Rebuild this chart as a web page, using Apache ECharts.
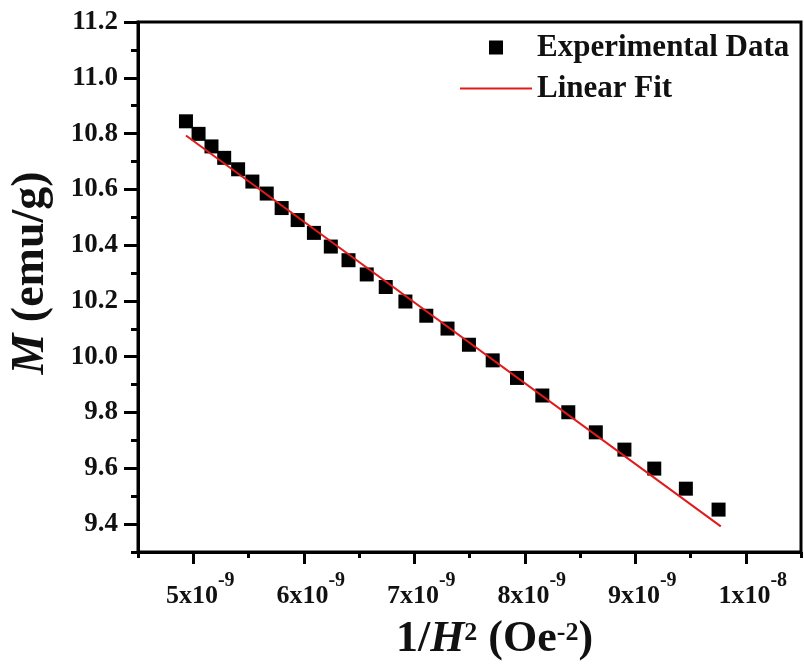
<!DOCTYPE html>
<html>
<head>
<meta charset="utf-8">
<script src="https://cdn.jsdelivr.net/npm/echarts@6/dist/echarts.min.js"></script>
<style>
  html, body { margin: 0; padding: 0; background: #fff; }
  #chart { width: 804px; height: 665px; }
</style>
</head>
<body>
<div id="chart"></div>
<script>
// x values are in units of 1e-9 Oe^-2
const invH2 = [4.934, 5.048, 5.165, 5.280, 5.406, 5.535, 5.665, 5.800, 5.945, 6.092,
  6.245, 6.405, 6.570, 6.742, 6.920, 7.109, 7.301, 7.495, 7.710, 7.930,
  8.159, 8.394, 8.643, 8.902, 9.172, 9.458, 9.754]
const magM = [10.844, 10.799, 10.754, 10.713, 10.672, 10.628, 10.585, 10.533, 10.490, 10.444,
  10.395, 10.346, 10.295, 10.250, 10.198, 10.147, 10.101, 10.043, 9.987, 9.924,
  9.861, 9.801, 9.729, 9.667, 9.599, 9.527, 9.452]

// linear fit end points
const fitX = [4.934, 9.774]
const fitY = [10.793, 9.392]

// tick labels
const xTickValues = [5, 6, 7, 8, 9, 10]
const xTickMantissa = ['5', '6', '7', '8', '9', '1']
const xTickExponent = ['-9', '-9', '-9', '-9', '-9', '-8']
const yTickValues = [9.4, 9.6, 9.8, 10.0, 10.2, 10.4, 10.6, 10.8, 11.0, 11.2]

const serif = '"Liberation Serif", "DejaVu Serif", serif'
const black = '#000'
const red = '#e01b1b'

const grid = {
  left: 138, right: 3, top: 22, bottom: 113,
  outerBoundsMode: 'none',
  show: true, borderColor: black, borderWidth: 3
}

const baseAxis = {
  type: 'value',
  splitLine: { show: false },
  axisLine: { show: true, onZero: false, lineStyle: { color: black, width: 3 } }
}

const option = {
  backgroundColor: '#fff',
  animation: false,
  grid: grid,
  legend: {
    orient: 'vertical',
    left: 455,
    top: 27,
    itemWidth: 72,
    itemHeight: 14,
    itemGap: 10,
    textStyle: { fontFamily: serif, fontSize: 31, fontWeight: 'bold', color: '#111', lineHeight: 30 },
    data: [
      { name: 'Experimental Data', icon: 'path://M0,0h14v14h-14z' },
      { name: 'Linear Fit', icon: 'path://M0,0h72v2h-72z' }
    ]
  },
  xAxis: [
    // minor ticks every 0.5
    Object.assign({}, baseAxis, {
      position: 'bottom',
      min: 4.5, max: 10.5, interval: 0.5,
      axisTick: { show: true, inside: false, length: 6, lineStyle: { color: black, width: 3 } },
      axisLabel: { show: false }
    }),
    // major ticks + labels
    Object.assign({}, baseAxis, {
      position: 'bottom',
      min: 4.5, max: 10.5, interval: 0.5,
      axisLine: { show: false, onZero: false },
      axisTick: { show: true, inside: false, length: 12, customValues: xTickValues, lineStyle: { color: black, width: 3 } },
      axisLabel: {
        show: true,
        margin: 19,
        padding: [0, 0, 0, 14],
        customValues: xTickValues,
        formatter: function (v) {
          const i = xTickValues.indexOf(Math.round(v))
          if (i < 0) return ''
          return '{b|' + xTickMantissa[i] + 'x10}{s|' + xTickExponent[i] + '}'
        },
        rich: {
          b: { fontFamily: serif, fontSize: 26, fontWeight: 'bold', color: '#111', lineHeight: 38, verticalAlign: 'bottom' },
          s: { fontFamily: serif, fontSize: 20, fontWeight: 'bold', color: '#111', lineHeight: 20, verticalAlign: 'top' }
        }
      },
      name: '{n|1/}{i|H}{s|2}{n| (Oe}{s|-2}{n|)}',
      nameLocation: 'middle',
      nameGap: 68,
      nameTextStyle: {
        padding: [0, 0, 0, 50],
        rich: {
          n: { fontFamily: serif, fontSize: 44, fontWeight: 'bold', color: '#111', lineHeight: 42, verticalAlign: 'bottom' },
          i: { fontFamily: serif, fontSize: 44, fontWeight: 'bold', fontStyle: 'italic', color: '#111', lineHeight: 42, verticalAlign: 'bottom' },
          s: { fontFamily: serif, fontSize: 26, fontWeight: 'bold', color: '#111', lineHeight: 26, verticalAlign: 'top' }
        }
      }
    })
  ],
  yAxis: [
    Object.assign({}, baseAxis, {
      position: 'left',
      min: 9.3, max: 11.2, interval: 0.1,
      axisTick: { show: true, inside: false, length: 7, lineStyle: { color: black, width: 3 } },
      axisLabel: { show: false }
    }),
    Object.assign({}, baseAxis, {
      position: 'left',
      min: 9.3, max: 11.2, interval: 0.1,
      axisLine: { show: false, onZero: false },
      axisTick: { show: true, inside: false, length: 14, customValues: yTickValues, lineStyle: { color: black, width: 3 } },
      axisLabel: {
        show: true,
        margin: 20,
        customValues: yTickValues,
        fontFamily: serif, fontSize: 27, fontWeight: 'bold', color: '#111',
        formatter: function (v) { return v.toFixed(1) }
      },
      name: '{i|M}{n| (emu/g)}',
      nameLocation: 'middle',
      nameGap: 84,
      nameTextStyle: {
        padding: [0, 0, 0, 28],
        rich: {
          i: { fontFamily: serif, fontSize: 46, fontWeight: 'bold', fontStyle: 'italic', color: '#111' },
          n: { fontFamily: serif, fontSize: 46, fontWeight: 'bold', color: '#111' }
        }
      }
    })
  ],
  series: [
    {
      name: 'Experimental Data',
      type: 'scatter',
      xAxisIndex: 0,
      yAxisIndex: 0,
      symbol: 'rect',
      symbolSize: 14,
      itemStyle: { color: black, opacity: 1 },
      data: invH2.map((x, i) => [x, magM[i]]),
      z: 2
    },
    {
      name: 'Linear Fit',
      type: 'line',
      xAxisIndex: 0,
      yAxisIndex: 0,
      symbol: 'none',
      lineStyle: { color: red, width: 2 },
      itemStyle: { color: red },
      data: fitX.map((x, i) => [x, fitY[i]]),
      z: 3
    }
  ]
}

const chart = echarts.init(document.getElementById('chart'))
chart.setOption(option)
</script>
</body>
</html>
